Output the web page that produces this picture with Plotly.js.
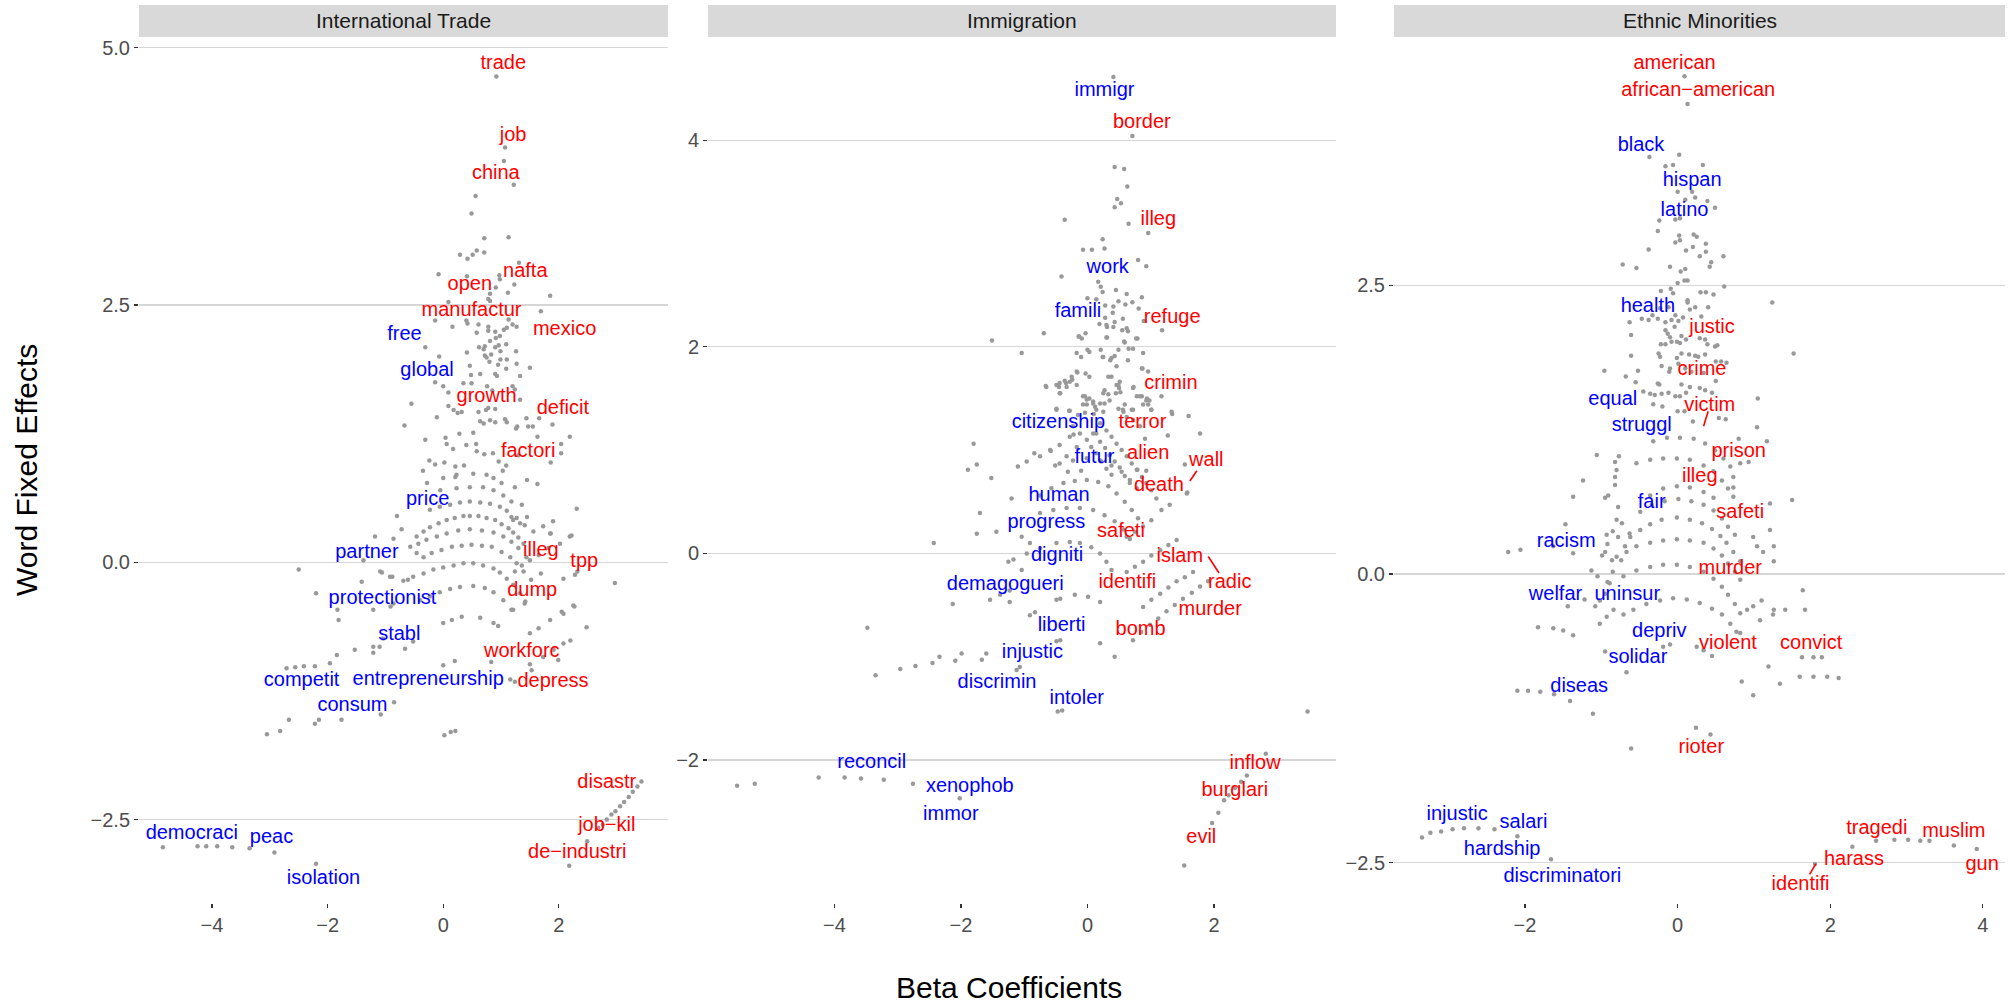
<!DOCTYPE html>
<html>
<head>
<meta charset="utf-8">
<script src="https://cdn.plot.ly/plotly-3.0.1.min.js"></script>
<style>html,body{margin:0;padding:0;background:#fff;}#chart{width:2015px;height:1005px;}</style>
</head>
<body>
<div id="chart"></div>
<script>
// ---------------- DATA ----------------
const panelNames = ["International Trade", "Immigration", "Ethnic Minorities"];

// International Trade: background word points [beta, fixed effect]
const tradePoints = [
[0.92,4.72],[1.07,4.03],[1.05,3.90],[1.22,3.67],[0.56,3.56],[0.49,3.39],
[0.71,3.15],[1.13,3.16],[0.29,2.99],[0.42,2.95],[0.51,2.99],[0.58,3.03],[0.71,3.01],[-0.08,2.80],[0.41,2.78],[0.97,2.79],[0.98,2.75],[1.31,2.91],[1.23,2.70],[1.12,2.62],[0.91,2.67],[0.81,2.61],[0.78,2.56],[0.81,2.54],[1.85,2.59],[0.09,2.53],[1.69,2.44],[-0.14,2.35],[0.40,2.35],[0.42,2.32],[0.16,2.29],[0.61,2.31],[0.78,2.29],[1.13,2.36],[1.20,2.31],[1.27,2.29],[1.05,2.26],[1.10,2.28],[0.78,2.25],[0.90,2.24],[0.98,2.20],[0.58,2.23],[-0.31,2.09],[-0.07,2.00],[0.41,2.04],[0.62,2.09],[0.70,2.07],[0.72,2.10],[0.81,2.15],[0.91,2.18],[0.90,2.09],[0.96,2.11],[1.09,2.12],[0.99,2.05],[1.26,2.05],[0.72,2.01],[0.75,1.99],[0.83,2.02],[0.80,1.95],[0.99,1.97],[1.10,1.97],[0.95,1.92],[1.27,1.93],[0.46,1.91],[0.48,1.82],[0.64,1.83],[0.90,1.83],[0.93,1.81],[1.09,1.88],[1.33,1.81],[1.50,1.89],[-0.14,1.75],[0.00,1.71],[0.09,1.65],[0.35,1.74],[0.49,1.74],[0.76,1.71],[0.85,1.67],[1.20,1.71],[1.24,1.68],[-0.55,1.54],[0.09,1.52],[0.18,1.48],[0.25,1.45],[0.32,1.46],[0.61,1.46],[0.74,1.48],[0.78,1.50],[0.90,1.49],[0.64,1.37],[0.70,1.35],[0.81,1.38],[0.90,1.36],[1.07,1.39],[1.10,1.36],[-0.11,1.41],[1.44,1.40],[1.66,1.40],[1.89,1.34],[1.33,1.58],[-0.67,1.33],[1.47,1.32],[1.55,1.32],[1.26,1.30],[1.28,1.32],
[0.52,1.26],[2.19,1.22],[1.63,1.22],[-0.31,1.19],[0.04,1.21],[0.28,1.25],[0.06,1.15],[0.17,1.10],[0.40,1.14],[0.57,1.15],[0.58,1.08],[0.71,1.05],[0.86,1.06],[0.96,0.98],[1.09,0.94],[2.04,1.15],[2.04,1.06],[1.86,0.97],[-0.24,0.99],[-0.14,0.95],[0.02,0.97],[-0.35,0.89],[0.21,0.93],[0.36,0.94],[1.30,1.04],[1.45,0.80],[1.63,0.76],[1.24,0.73],[-0.28,0.77],[0.21,0.83],[1.03,0.89],
[0.00,0.82],[0.23,0.85],[0.52,0.86],[0.75,0.85],[0.87,0.82],[1.01,0.77],
[-0.05,0.70],[0.23,0.72],[0.46,0.73],[0.69,0.73],[0.87,0.70],[1.04,0.65],[1.18,0.59],
[-0.23,0.51],[-0.06,0.54],[0.12,0.56],[0.29,0.58],[0.46,0.59],[0.64,0.58],[0.81,0.57],[0.98,0.54],[1.10,0.50],[1.27,0.43],
[-0.46,0.25],[-0.34,0.30],[-0.23,0.34],[-0.08,0.38],[0.06,0.41],[0.20,0.43],[0.35,0.45],[0.46,0.45],[0.61,0.45],[0.75,0.43],[0.90,0.41],[1.01,0.37],[1.13,0.33],[1.21,0.29],[1.30,0.24],[1.39,0.18],
[-0.57,0.15],[-0.43,0.18],[-0.29,0.22],[-0.11,0.25],[0.06,0.28],[0.26,0.31],[0.46,0.32],[0.67,0.31],[0.87,0.29],[1.04,0.25],[1.18,0.20],[1.30,0.14],[1.44,0.05],
[-0.34,0.05],[-0.20,0.09],[-0.03,0.12],[0.15,0.15],[0.32,0.16],[0.49,0.17],[0.67,0.16],[0.84,0.15],[1.01,0.10],[1.16,0.05],[1.27,-0.01],[1.39,-0.09],
[-0.69,-0.18],[-0.52,-0.14],[-0.34,-0.11],[-0.17,-0.07],[0.00,-0.05],[0.18,-0.03],[0.35,-0.01],[0.52,-0.01],[0.69,-0.03],[0.87,-0.06],[0.98,-0.10],[1.10,-0.16],[1.21,-0.22],[1.33,-0.30],[1.42,-0.38],
[-0.40,-0.37],[-0.23,-0.33],[-0.06,-0.29],[0.12,-0.26],[0.29,-0.24],[0.52,-0.23],[0.72,-0.25],[0.87,-0.29],[1.04,-0.37],[1.18,-0.46],
[0.00,-0.59],[0.15,-0.56],[0.32,-0.53],[0.64,-0.54],[0.87,-0.59],[0.95,-0.62],
[0.00,-1.00],[0.20,-0.96],[1.50,-0.99],[1.53,-1.05],
[1.50,-0.69],[1.65,-0.64],[1.85,-0.56],[2.05,-0.48],[2.25,-0.42],
[1.73,-0.92],[1.91,-0.85],[2.08,-0.79],[2.20,-0.76],[2.48,-0.63],
[1.24,-0.09],[1.36,-0.03],[1.50,0.02],[1.65,0.07],[1.82,0.14],[2.02,0.18],[2.19,0.25],
[2.08,-0.16],[2.28,-0.12],[1.16,-1.14],[1.24,-1.16],
[-1.21,-0.82],[-1.04,-0.74],[-0.66,-0.84],[-0.52,-0.77],[-1.53,-0.85],[-1.84,-0.90],[-1.09,-0.09],[-0.92,-0.14],[-1.41,-0.19],[-1.21,-0.46],[-1.81,-0.56],[-0.86,-0.40],
[-0.80,0.45],[-0.72,0.32],[-1.18,0.25],[-0.86,0.23],[-0.46,0.09],[-1.38,0.02],
[1.85,0.28],[1.73,0.35],[1.56,0.30],[1.41,0.36],[1.21,0.41],[1.36,0.56],[2.31,0.52],
[1.90,0.40],[2.22,0.26],[1.86,0.28],[1.45,0.44],[1.33,0.38],[1.18,0.44],
[-2.50,-0.07],[-1.06,-0.10],[-0.88,-0.14],[-0.61,-0.17],[1.69,-0.11],[2.32,-0.09],[2.97,-0.20],[1.52,-0.17],
[-2.20,-0.30],[-1.83,-0.46],[-0.91,-0.43],[2.27,-0.43],[2.08,-0.50],[1.21,-0.46],[1.41,-0.40],
[-1.96,-0.98],[-1.21,-0.88],[-1.10,-0.82],
[-2.71,-1.03],[-2.56,-1.02],[-2.41,-1.01],[-2.22,-1.01],[0.83,-0.97],[1.99,-0.95],
[0.02,-1.68],[0.13,-1.65],[0.21,-1.64],
[-0.85,-1.36],[-1.08,-1.48],[-1.76,-1.53],[-2.15,-1.53],[-2.22,-1.57],[-2.67,-1.53],[-2.82,-1.64],[-3.05,-1.67],
[3.43,-2.13],[3.36,-2.18],[3.28,-2.23],[3.21,-2.28],[3.13,-2.33],[3.06,-2.37],[2.98,-2.42],[2.91,-2.45],[2.83,-2.50],[2.76,-2.55],[2.68,-2.58],
[2.49,-2.71],[2.18,-2.95],
[-4.85,-2.77],[-4.25,-2.76],[-4.10,-2.76],[-3.91,-2.76],[-3.65,-2.77],[-3.35,-2.78],[-2.92,-2.82],[-2.20,-2.93]
];
const tradeWords = ["trade","job","china","nafta","open","manufactur","free","mexico","global","growth","deficit","factori","price","partner","illeg","tpp","dump","protectionist","stabl","workforc","competit","entrepreneurship","depress","consum","disastr","democraci","peac","job\u2212kil","de\u2212industri","isolation"];
const tradeWordX = [1.04,1.21,0.91,1.42,0.46,0.49,-0.67,2.10,-0.28,0.75,2.07,1.47,-0.27,-1.32,1.69,2.44,1.54,-1.05,-0.76,1.36,-2.45,-0.26,1.90,-1.57,2.83,-4.35,-2.97,2.83,2.32,-2.07];
const tradeWordY = [4.84,4.146,3.77,2.825,2.695,2.445,2.208,2.256,1.86,1.607,1.49,1.07,0.61,0.09,0.11,0.0,-0.275,-0.356,-0.706,-0.868,-1.15,-1.143,-1.159,-1.40,-2.14,-2.64,-2.675,-2.558,-2.827,-3.08];
const tradeWordSide = ["pos","pos","pos","pos","pos","pos","neg","pos","neg","pos","pos","pos","neg","neg","pos","pos","pos","neg","neg","pos","neg","neg","pos","neg","pos","neg","neg","pos","pos","neg"];
const tradeSegments = [];

// Immigration
const immigPoints = [
[0.41,4.61],[0.71,4.04],[0.43,3.74],[0.58,3.72],[0.63,3.55],[0.47,3.43],[0.53,3.39],[0.43,3.35],[-0.36,3.23],[0.65,3.19],[0.96,3.10],[0.24,3.04],[-0.07,2.94],[0.07,2.94],[0.27,2.95],[0.80,2.84],[0.93,2.78],[-0.41,2.68],[0.17,2.63],[0.21,2.58],[0.24,2.53],[0.45,2.55],[0.62,2.51],[0.86,2.48],[0.00,2.47],[0.14,2.46],[0.49,2.44],[0.60,2.41],[0.71,2.43],[0.81,2.37],[0.40,2.33],[0.56,2.27],[0.89,2.25],[0.19,2.22],[0.31,2.19],[0.43,2.24],[0.55,2.16],[0.62,2.18],[1.18,2.16],[-0.69,2.13],[-1.51,2.06],[-0.14,2.10],[-0.03,2.13],[0.31,2.09],[0.58,2.05],[0.79,2.08],[-1.04,1.94],[-0.17,1.94],[0.00,1.97],[0.21,1.97],[0.49,1.97],[0.72,1.98],[0.88,1.94],[-0.10,1.90],[0.24,1.90],[0.38,1.89],[0.64,1.87],[-0.17,1.76],[-0.03,1.74],[-0.24,1.68],[0.03,1.71],[0.86,1.79],[0.96,1.76],[-0.65,1.61],[-0.45,1.61],[-0.34,1.65],[0.38,1.71],[0.51,1.66],[1.17,1.52],[-0.43,1.55],[0.27,1.58],[0.45,1.55],[0.03,1.50],[-0.07,1.44],[0.27,1.45],[0.49,1.40],[0.96,1.44],[1.01,1.39],[0.72,1.39],[-0.49,1.39],[-0.29,1.38],[0.10,1.35],[1.34,1.35],[1.60,1.33],[1.78,1.16],[1.27,1.14],[0.14,1.16],[-0.22,1.15],[-1.80,1.06],[-1.75,0.86],[-1.89,0.81],[-1.52,0.73],[-1.10,0.84],[-0.84,0.97],[-0.58,0.99],[-0.51,0.85],[-0.31,0.79],[-0.10,0.80],[0.79,0.81],[0.93,0.80],[1.54,0.86],[1.58,0.59],
[-0.16,1.75],[-0.25,1.71],[-0.28,1.66],[-0.36,1.67],[-0.49,1.63],[-0.66,1.62],[-0.44,1.55],[0.33,1.71],[0.46,1.81],[0.49,1.63],[0.50,1.60],[0.33,1.54],[0.52,1.56],[0.73,1.61],[0.87,1.79],[0.83,1.52],[0.94,1.50],[0.98,1.48],[0.88,1.44],[1.01,1.39],[1.33,1.37],[-0.04,1.52],[0.09,1.47],[-0.01,1.44],[0.12,1.42],[0.20,1.45],[0.25,1.37],[0.59,1.44],[0.70,1.39],[0.57,1.37],[-0.28,1.38],[-0.15,1.34],[-0.04,1.36],[-0.49,1.40],[0.28,2.40],[0.41,2.39],[0.28,2.28],[0.30,2.21],[0.41,2.19],[0.64,2.15],[0.30,2.09],[0.59,2.04],[0.77,2.08],[-0.13,2.10],[-0.09,2.08],[0.03,1.95],[0.25,1.90],[0.43,1.91],[0.36,1.87],[0.65,1.98],
[-0.44,0.87],[-0.23,0.90],[-0.01,0.92],[0.20,0.90],[0.38,0.85],[0.54,0.79],[0.67,0.71],[0.78,0.63],
[-0.75,0.56],[-0.57,0.63],[-0.38,0.68],[-0.20,0.70],[-0.01,0.71],[0.17,0.69],[0.33,0.65],[0.46,0.58],[0.59,0.50],[0.70,0.42],[0.80,0.34],
[-0.75,0.39],[-0.54,0.42],[-0.33,0.44],[-0.12,0.44],[0.09,0.42],[0.27,0.37],[0.43,0.31],[0.57,0.23],[0.67,0.14],
[-1.17,-0.06],[-0.96,0.00],[-0.75,0.05],[-0.49,0.10],[-0.28,0.11],[-0.12,0.10],[0.06,0.06],[0.20,0.00],[0.30,-0.08],[0.38,-0.16],
[-1.54,-0.45],[-1.38,-0.40],[-1.23,-0.36],[-1.23,-0.47],[-0.49,-0.45],[-0.43,-0.44],[-0.20,-0.40],[0.01,-0.42],[0.20,-0.47],[-0.91,-0.60],[-0.83,-0.57],[-0.43,-0.84],[-0.49,-0.85],[-1.07,-1.10],[-1.12,-1.13],[-1.60,-0.97],[-1.67,-1.03],
[0.20,1.26],[0.30,1.19],[0.38,1.13],[0.46,1.06],[0.54,1.00],[0.62,0.94],[0.70,0.87],[0.78,0.81],[0.86,0.74],[0.93,0.68],[1.01,0.61],[1.09,0.53],
[0.09,1.16],[0.20,1.08],[0.28,1.02],[0.35,0.95],[0.43,0.89],[0.51,0.83],[0.59,0.75],[0.67,0.68],
[-0.01,1.10],[0.06,1.03],[0.14,0.97],[0.22,0.89],[0.30,0.82],[0.38,0.76],
[-0.44,1.65],[-0.33,1.61],[-0.17,1.63],[-0.07,1.52],[-0.01,1.49],[0.09,1.45],[0.14,1.39],[0.25,1.55],[0.35,1.48],[0.46,1.63],[0.72,1.60],[0.78,1.52],[0.86,1.52],[0.93,1.48],[0.56,1.39],[0.62,1.32],[0.72,1.29],[0.83,1.23],[0.91,1.11],
[-0.23,1.23],[-0.12,1.16],[-0.28,1.13],[-0.44,1.05],[-0.17,1.03],[-0.33,0.94],[-0.59,1.00],[-0.75,0.94],[-0.96,0.89],
[-1.20,0.53],[-1.70,0.39],[-1.75,0.19],[-1.44,0.21],[-1.04,0.16],[-0.91,0.10],[-1.25,-0.08],[-1.04,-0.16],
[0.72,-0.84],[0.85,-0.76],[0.99,-0.69],[1.12,-0.63],[1.25,-0.56],[1.38,-0.50],[1.51,-0.44],[1.65,-0.38],[1.78,-0.32],[1.91,-0.27],
[0.88,-0.52],[1.01,-0.45],[1.15,-0.39],[1.28,-0.33],[1.41,-0.27],[1.54,-0.23],[1.67,-0.18],
[0.62,-0.18],[0.75,-0.13],[0.88,-0.08],[1.01,-0.02],[1.15,0.03],[1.28,0.08],[1.41,0.13],
[0.62,0.16],[0.75,0.21],[0.88,0.26],[1.01,0.32],[1.17,0.42],[1.30,0.47],[1.57,0.58],
[0.20,-0.87],[0.43,-1.00],
[-2.43,0.10],[-2.13,-0.49],[-3.48,-0.72],[-3.35,-1.18],[-2.96,-1.12],[-2.72,-1.09],[-2.45,-1.06],[-2.34,-1.00],[-2.09,-1.04],[-1.99,-0.97],[-0.47,-1.53],[-0.40,-1.52],[3.48,-1.53],
[-5.54,-2.25],[-5.26,-2.23],[-4.25,-2.17],[-3.84,-2.17],[-3.58,-2.18],[-3.22,-2.19],[-2.76,-2.23],[-2.02,-2.37],
[2.82,-1.94],[2.52,-2.15],[2.43,-2.21],[2.33,-2.27],[2.23,-2.34],[2.16,-2.39],[2.07,-2.51],[1.97,-2.61],[1.53,-3.02]
];
const immigWords = ["immigr","border","illeg","work","famili","refuge","crimin","citizenship","terror","futur","alien","wall","death","human","progress","safeti","digniti","islam","radic","demagogueri","identifi","murder","liberti","bomb","injustic","discrimin","intoler","reconcil","inflow","xenophob","burglari","immor","evil"];
const immigWordX = [0.27,0.86,1.12,0.32,-0.15,1.34,1.32,-0.46,0.87,0.11,0.96,1.88,1.13,-0.45,-0.65,0.53,-0.48,1.46,2.25,-1.30,0.63,1.94,-0.41,0.84,-0.87,-1.43,-0.17,-3.41,2.65,-1.86,2.33,-2.16,1.80];
const immigWordY = [4.477,4.17,3.226,2.758,2.332,2.274,1.635,1.258,1.258,0.919,0.961,0.897,0.652,0.558,0.297,0.203,-0.026,-0.035,-0.285,-0.306,-0.284,-0.552,-0.705,-0.737,-0.962,-1.258,-1.413,-2.032,-2.042,-2.265,-2.30,-2.532,-2.752];
const immigWordSide = ["neg","pos","pos","neg","neg","pos","pos","neg","pos","neg","pos","pos","pos","neg","neg","pos","neg","pos","pos","neg","pos","pos","neg","pos","neg","neg","neg","neg","pos","neg","pos","neg","pos"];
const immigSegments = [[1.73,0.80,1.62,0.70],[1.91,-0.03,2.08,-0.19]];

// Ethnic Minorities
const ethnicPoints = [
[0.09,4.31],[0.13,4.07],[0.02,3.63],[-0.37,3.61],[-0.16,3.53],[-0.06,3.54],[0.33,3.54],[0.00,3.31],[0.23,3.26],[0.19,3.31],[0.10,3.24],[0.39,3.23],[0.49,3.17],
[-0.03,3.07],[0.03,3.08],[-0.24,3.06],[-0.26,2.97],[0.02,2.93],[0.21,2.94],[0.25,2.92],[-0.03,2.87],[0.03,2.89],[0.20,2.83],[0.37,2.86],[-0.38,2.81],[0.11,2.80],[0.37,2.79],[0.29,2.75],[0.60,2.75],[0.44,2.70],[0.42,2.66],[-0.72,2.68],[-0.54,2.65],[-0.10,2.66],[0.04,2.62],[0.10,2.64],[0.09,2.54],[0.13,2.54],[0.00,2.52],[0.61,2.49],[-0.22,2.45],[-0.09,2.47],[-0.06,2.43],[0.30,2.44],[0.37,2.44],[0.47,2.42],[0.13,2.37],[0.13,2.35],[-0.23,2.30],[-0.12,2.31],[-0.03,2.24],[0.16,2.29],[0.23,2.31],[0.40,2.31],[1.24,2.35],[-0.47,2.21],[-0.38,2.20],[-0.33,2.24],[-0.26,2.21],[-0.63,2.18],[-0.16,2.18],[-0.08,2.20],[0.01,2.19],[0.07,2.22],[-0.04,2.14],[0.31,2.23],[-0.61,2.07],[-0.13,2.08],[-0.16,2.11],[-0.10,2.05],[0.05,2.06],[0.11,2.03],[0.29,2.04],[0.36,2.03],[0.39,1.99],[-0.22,1.99],[-0.16,1.99],[-0.08,2.01],[-0.01,2.01],[0.03,2.00],[0.49,1.97],[0.52,1.98],[1.52,1.91],[-0.61,1.89],[-0.25,1.91],[-0.23,1.88],[0.05,1.91],[0.15,1.90],[0.23,1.89],[0.27,1.88],[0.36,1.90],[-0.01,1.87],[0.01,1.82],[0.50,1.84],[0.57,1.84],[0.64,1.83],[-0.21,1.80],[-0.10,1.78],[-0.11,1.75],[0.10,1.78],[0.18,1.75],[0.34,1.74],[-0.96,1.76],[-0.68,1.71],[-0.52,1.76],[-0.55,1.66],[-0.26,1.65],[-0.24,1.64],[0.05,1.64],[0.16,1.62],[0.29,1.61],[0.36,1.59],[0.50,1.67],[0.45,1.57],[-0.45,1.58],[-0.36,1.56],[-0.30,1.55],[-0.21,1.56],[-0.12,1.57],[-0.03,1.54],[0.03,1.54],[0.11,1.57],
[1.05,1.52],[-0.32,1.47],[-0.20,1.45],[0.00,1.41],[0.09,1.41],[0.20,1.32],[0.54,1.35],[0.63,1.34],[1.04,1.27],[-0.77,1.02],[0.80,1.17],[0.73,0.84],[0.73,0.75],
[-0.32,1.15],[-0.14,1.18],[0.03,1.18],[0.21,1.17],[0.36,1.13],[0.49,1.07],[0.60,1.00],[0.69,0.93],
[-0.54,0.96],[-0.36,0.99],[-0.19,1.00],[-0.01,1.00],[0.16,0.99],[0.34,0.94],[0.47,0.89],[0.58,0.81],[0.66,0.74],[0.73,0.67],
[-0.36,0.68],[-0.19,0.74],[-0.01,0.76],[0.16,0.75],[0.34,0.71],[0.47,0.66],
[-0.49,0.54],[-0.34,0.60],[-0.17,0.63],[0.01,0.65],[0.18,0.63],[0.34,0.60],[0.47,0.55],[0.58,0.48],[0.66,0.41],[0.75,0.34],
[-0.62,0.32],[-0.49,0.38],[-0.36,0.43],[-0.21,0.47],[-0.01,0.49],[0.16,0.47],[0.32,0.44],[0.45,0.39],[0.56,0.33],[0.64,0.27],[0.73,0.19],[0.82,0.11],
[-0.80,0.15],[-0.67,0.19],[-0.54,0.24],[-0.36,0.27],[-0.19,0.29],[-0.01,0.30],[0.16,0.29],[0.34,0.27],[0.47,0.22],[0.58,0.16],[0.66,0.09],[0.75,0.02],[0.82,-0.05],
[-0.89,-0.08],[-0.71,-0.02],[-0.54,0.03],[-0.36,0.06],[-0.19,0.08],[-0.01,0.08],[0.16,0.06],[0.34,0.02],[0.47,-0.04],[0.58,-0.11],[0.66,-0.18],[0.75,-0.26],[0.82,-0.34],
[-0.71,-0.35],[-0.58,-0.31],[-0.41,-0.26],[-0.23,-0.23],[-0.06,-0.21],[0.12,-0.22],[0.29,-0.25],[0.45,-0.30],[0.58,-0.35],[0.69,-0.43],[0.77,-0.50],
[-0.19,-0.63],[-0.10,-0.61],[0.25,-0.63],[0.34,-0.66],[0.45,-0.71],
[-1.08,-0.28],[-1.02,-0.23],[-0.95,-0.17],[-0.86,0.12],[-0.93,0.34],[-0.78,0.32],[-1.02,-0.43],[-0.93,-0.37],[-0.84,-0.31],[-1.13,0.03],[-0.95,0.19],[-0.73,0.44],[-0.78,0.58],[-0.91,0.68],[-0.95,0.66],[-0.82,0.97],[-0.80,0.90],[-0.82,0.84],[-0.82,0.77],
[-0.80,0.47],[-0.85,0.37],[-0.92,0.26],[-0.99,0.16],[-1.05,-0.02],[-0.63,0.35],[-0.69,0.24],[-0.74,0.12],[-0.85,0.02],[-0.92,-0.07],
[-1.37,0.67],[-1.24,0.81],[-1.06,1.03],[-1.47,0.43],[-1.63,0.24],[-1.37,0.18],
[1.17,1.15],[0.93,0.97],[0.82,0.96],[1.50,0.64],[1.21,0.61],[1.21,0.38],[0.99,0.32],[1.26,0.24],[1.26,0.11],[1.04,0.24],[1.12,0.19],[1.64,-0.14],[1.67,-0.31],[1.41,-0.31],[1.26,-0.31],[1.10,-0.23],[0.99,-0.28],[0.91,-0.31],[1.08,-0.40],[0.82,-0.51],[1.19,-0.80],[1.63,-0.72],[1.78,-0.72],[1.89,-0.72],[1.60,-0.89],[1.78,-0.89],[1.96,-0.89],[2.11,-0.90],[1.34,-0.95],[0.84,-0.93],[0.99,-1.05],[-0.67,-0.85],[-0.95,-0.67],[-1.63,-0.47],[-1.50,-0.49],[-1.37,-0.53],
[-2.22,0.19],[-2.06,0.21],[-1.44,-0.28],[-1.22,-0.22],[-1.83,-0.46],[1.25,-0.35],[-2.10,-1.01],[-1.96,-1.01],[-1.80,-1.02],[-1.62,-1.04],[-1.41,-1.10],[-1.11,-1.21],[-0.61,-1.51],[0.24,-1.33],[0.43,-1.39],
[-3.35,-2.28],[-3.24,-2.24],[-3.10,-2.23],[-2.95,-2.21],[-2.80,-2.20],[-2.61,-2.20],[-2.40,-2.21],[-2.10,-2.27],[-1.66,-2.47],[1.80,-2.51],[2.29,-2.36],[2.60,-2.31],[2.84,-2.30],[3.02,-2.30],[3.18,-2.31],[3.30,-2.31],[3.62,-2.35],[3.92,-2.38]
];
const ethnicWords = ["american","african\u2212american","black","hispan","latino","health","justic","crime","equal","victim","struggl","prison","illeg","fair","safeti","racism","murder","welfar","uninsur","depriv","violent","convict","solidar","diseas","rioter","injustic","salari","tragedi","muslim","hardship","harass","gun","discriminatori","identifi"];
const ethnicWordX = [-0.04,0.27,-0.48,0.19,0.09,-0.39,0.45,0.32,-0.85,0.42,-0.47,0.80,0.29,-0.34,0.82,-1.46,0.69,-1.60,-0.66,-0.24,0.66,1.75,-0.52,-1.29,0.31,-2.89,-2.02,2.61,3.62,-2.30,2.31,3.99,-1.51,1.61];
const ethnicWordY = [4.411,4.18,3.704,3.40,3.145,2.315,2.133,1.765,1.51,1.452,1.283,1.057,0.843,0.615,0.53,0.279,0.04,-0.181,-0.181,-0.506,-0.608,-0.608,-0.729,-0.982,-1.506,-2.082,-2.154,-2.206,-2.232,-2.393,-2.48,-2.523,-2.621,-2.696];
const ethnicWordSide = ["pos","pos","neg","neg","neg","neg","pos","pos","neg","pos","neg","pos","pos","neg","pos","neg","pos","neg","neg","neg","pos","pos","neg","neg","pos","neg","neg","pos","pos","neg","pos","pos","neg","pos"];
const ethnicSegments = [[0.40,1.41,0.34,1.28],[1.73,-2.60,1.81,-2.51]];

// axis ticks
const tradeYTicks = [-2.5, 0, 2.5, 5];
const immigYTicks = [-2, 0, 2, 4];
const ethnicYTicks = [-2.5, 0, 2.5];
const tradeXTicks = [-4, -2, 0, 2];
const immigXTicks = [-4, -2, 0, 2];
const ethnicXTicks = [-2, 0, 2, 4];

// ---------------- CHART ----------------
const FONT = "Liberation Sans, Arial, Helvetica, sans-serif";
const sideColor = {pos: "#FF0000", neg: "#0000FF"};

const panels = [
  {pts: tradePoints, words: tradeWords, wx: tradeWordX, wy: tradeWordY, side: tradeWordSide, segs: tradeSegments,
   xr: [-5.263, 3.889], yr: [-3.311, 5.105], xt: tradeXTicks, yt: tradeYTicks, yfmt: ".1f", dom: [139, 668]},
  {pts: immigPoints, words: immigWords, wx: immigWordX, wy: immigWordY, side: immigWordSide, segs: immigSegments,
   xr: [-6.0, 3.93], yr: [-3.384, 4.998], xt: immigXTicks, yt: immigYTicks, yfmt: "d", dom: [708, 1336]},
  {pts: ethnicPoints, words: ethnicWords, wx: ethnicWordX, wy: ethnicWordY, side: ethnicWordSide, segs: ethnicSegments,
   xr: [-3.717, 4.29], yr: [-2.848, 4.649], xt: ethnicXTicks, yt: ethnicYTicks, yfmt: ".1f", dom: [1394, 2005]}
];

const W = 2015, H = 1005;
const plotTop = 37, plotBottom = 903, stripTop = 5;
const traces = [];
const shapes = [];
const annotations = [];
const layout = {
  width: W, height: H,
  margin: {l: 0, r: 0, t: 0, b: 0},
  paper_bgcolor: "#ffffff", plot_bgcolor: "#ffffff",
  showlegend: false,
  font: {family: FONT, color: "#000"}
};

panels.forEach((p, i) => {
  const k = i === 0 ? "" : String(i + 1);
  const xa = "x" + k, ya = "y" + k;
  traces.push({
    type: "scatter", mode: "markers", xaxis: xa, yaxis: ya,
    x: p.pts.map(d => d[0]), y: p.pts.map(d => d[1]),
    marker: {color: "#999999", size: 4.5, line: {width: 0}},
    hoverinfo: "skip", cliponaxis: false
  });
  traces.push({
    type: "scatter", mode: "text", xaxis: xa, yaxis: ya,
    x: p.wx, y: p.wy, text: p.words,
    textposition: "middle center",
    textfont: {family: FONT, size: 20, color: p.side.map(s => sideColor[s])},
    hoverinfo: "skip", cliponaxis: false
  });
  p.segs.forEach(s => {
    shapes.push({type: "line", xref: xa, yref: ya, x0: s[0], y0: s[1], x1: s[2], y1: s[3],
      line: {color: "#FF0000", width: 1.6}});
  });
  shapes.push({type: "rect", xref: xa + " domain", yref: "paper", x0: 0, x1: 1,
    y0: (H - plotTop) / H, y1: (H - stripTop) / H, fillcolor: "#D9D9D9", line: {width: 0}, layer: "below"});
  annotations.push({xref: xa + " domain", yref: "paper", x: 0.5, y: (H - (plotTop + stripTop) / 2) / H,
    text: panelNames[i], showarrow: false, xanchor: "center", yanchor: "middle",
    font: {family: FONT, size: 21, color: "#1A1A1A"}});
  layout["xaxis" + k] = {
    domain: [p.dom[0] / W, p.dom[1] / W], range: p.xr, anchor: ya,
    tickvals: p.xt, tickformat: "d", showgrid: false, zeroline: false, showline: false,
    ticks: "outside", ticklen: 4, tickwidth: 1.2, tickcolor: "#333333",
    tickfont: {family: FONT, size: 20, color: "#4D4D4D"}, fixedrange: true
  };
  layout["yaxis" + k] = {
    domain: [(H - plotBottom) / H, (H - plotTop) / H], range: p.yr, anchor: xa,
    tickvals: p.yt, tickformat: p.yfmt, showgrid: true, gridcolor: "#D6D6D6", gridwidth: 1.2,
    zeroline: false, showline: false,
    ticks: "outside", ticklen: 4, tickwidth: 1.2, tickcolor: "#333333",
    tickfont: {family: FONT, size: 20, color: "#4D4D4D"}, fixedrange: true
  };
});

annotations.push({xref: "paper", yref: "paper", x: 26 / W, y: (H - 470) / H, text: "Word Fixed Effects",
  textangle: -90, showarrow: false, xanchor: "center", yanchor: "middle",
  font: {family: FONT, size: 30, color: "#000000"}});
annotations.push({xref: "paper", yref: "paper", x: 1009 / W, y: (H - 987) / H, text: "Beta Coefficients",
  showarrow: false, xanchor: "center", yanchor: "middle",
  font: {family: FONT, size: 30, color: "#000000"}});

layout.shapes = shapes;
layout.annotations = annotations;

Plotly.newPlot("chart", traces, layout, {displayModeBar: false, staticPlot: true});
</script>
</body>
</html>
